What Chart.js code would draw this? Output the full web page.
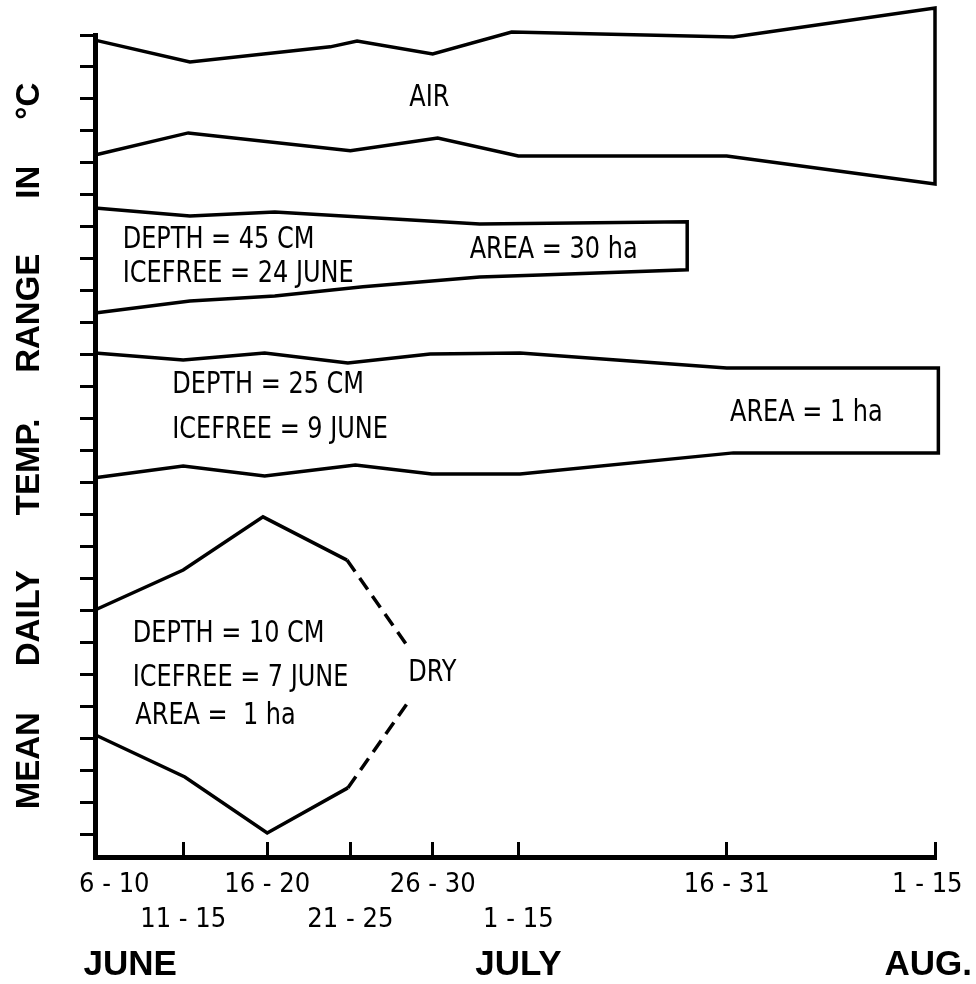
<!DOCTYPE html>
<html>
<head>
<meta charset="utf-8">
<title>Mean daily temperature range</title>
<script src="https://cdn.jsdelivr.net/npm/chart.js@4.4.1/dist/chart.umd.min.js"></script>
<style>
body { margin: 0; background: #fff; }
</style>
</head>
<body>
<canvas id="rangeChart" width="976" height="984"></canvas>
<script>
// periods along the x axis (0 = 6-10 June ... 10 = 1-15 Aug)
const periodPos = [0, 1.05, 2.05, 3.04, 4.02, 5.04, 7.52, 10]
const periodRow1 = ['6 - 10', '', '16 - 20', '', '26 - 30', '', '16 - 31', '1 - 15']
const periodRow2 = ['', '11 - 15', '', '21 - 25', '', '1 - 15', '', '']
const months = ['JUNE', 'JULY', 'AUG.']
const monthPos = [0.42, 5.04, 9.92]

// y tick marks, no numbers on the original
const yTicks = [0, 1, 2, 3, 4, 5, 6, 7, 8, 9, 10, 11, 12, 13, 14, 15, 16, 17, 18, 19, 20, 21, 22, 23, 24, 25]

// band outlines [x, y], upper and lower edge
const airUpper = [[0, 24.84], [1.13, 24.16], [2.80, 24.63], [3.12, 24.81], [4.02, 24.41], [4.96, 25.09], [7.60, 24.94], [10, 25.84]]
const airLower = [[0, 21.25], [1.11, 21.94], [3.04, 21.38], [4.08, 21.78], [5.04, 21.22], [7.52, 21.22], [10, 20.34]]

const pond45Upper = [[0, 19.59], [1.13, 19.34], [2.14, 19.47], [4.58, 19.09], [7.05, 19.16]]
const pond45Lower = [[0, 16.31], [1.13, 16.69], [2.14, 16.84], [3.19, 17.13], [4.58, 17.44], [5.30, 17.50], [7.05, 17.66]]

const pond25Upper = [[0, 15.06], [1.05, 14.84], [2.02, 15.06], [3.01, 14.75], [3.99, 15.03], [5.06, 15.06], [7.52, 14.59], [10.04, 14.59]]
const pond25Lower = [[0, 11.16], [1.05, 11.53], [2.02, 11.22], [3.10, 11.56], [4.01, 11.28], [5.06, 11.28], [7.60, 11.94], [10.04, 11.94]]

// 10 cm pond dried up, last segment dashed
const pond10Upper = [[0, 7.03], [1.05, 8.28], [2.0, 9.94], [3.0, 8.59], [3.71, 5.94]]
const pond10Lower = [[0, 3.13], [1.07, 1.81], [2.05, 0.06], [3.01, 1.47], [3.73, 4.16]]

// text written inside the bands
const notes = [
    {text: 'AIR', x: 3.98, y: 23.03, align: 'center'},
    {text: 'DEPTH = 45 CM', x: 0.33, y: 18.59, align: 'left'},
    {text: 'ICEFREE = 24 JUNE', x: 0.33, y: 17.53, align: 'left'},
    {text: 'AREA = 30 ha', x: 4.46, y: 18.28, align: 'left'},
    {text: 'DEPTH = 25 CM', x: 0.92, y: 14.06, align: 'left'},
    {text: 'ICEFREE = 9 JUNE', x: 0.92, y: 12.66, align: 'left'},
    {text: 'AREA = 1 ha', x: 7.56, y: 13.19, align: 'left'},
    {text: 'DEPTH = 10 CM', x: 0.45, y: 6.28, align: 'left'},
    {text: 'ICEFREE = 7 JUNE', x: 0.45, y: 4.91, align: 'left'},
    {text: 'AREA =  1 ha', x: 0.48, y: 3.72, align: 'left'},
    {text: 'DRY', x: 3.73, y: 5.06, align: 'left'}
]

const narrow = "'Liberation Sans Narrow', 'DejaVu Sans Condensed', sans-serif"
const bold = "'Liberation Sans', Arial, sans-serif"

// upper edge left to right, then back along the lower edge
function outline(upper, lower){
    return upper.concat(lower.slice().reverse())
}

function band(points, dashFrom){
    return {
        data: points.map(p => ({x: p[0], y: p[1]})),
        showLine: true,
        borderColor: '#000',
        borderWidth: 3.5,
        pointRadius: 0,
        fill: false,
        tension: 0,
        clip: false,
        segment: {
            borderDash: ctx => (dashFrom !== undefined && ctx.p0DataIndex >= dashFrom) ? [14, 8] : undefined
        }
    }
}

// notes are squeezed a bit sideways to look like the narrow typewriter face
const notesPlugin = {
    id: 'notes',
    afterDatasetsDraw(chart){
        const {ctx, scales: {x, y}} = chart
        ctx.save()
        ctx.fillStyle = '#000'
        ctx.font = '31px ' + narrow
        ctx.textBaseline = 'middle'
        notes.forEach(n => {
            ctx.save()
            ctx.translate(x.getPixelForValue(n.x), y.getPixelForValue(n.y))
            ctx.scale(0.86, 1)
            ctx.textAlign = n.align
            ctx.fillText(n.text, 0, 0)
            ctx.restore()
        })
        ctx.restore()
    }
}

// setup
const data = {
    datasets: [
        band(outline(airUpper, airLower)),
        band(outline(pond45Upper, pond45Lower)),
        band(outline(pond25Upper, pond25Lower)),
        band(pond10Upper, 3),
        band(pond10Lower, 3)
    ]
}

//config
const config = {
    type: 'scatter',
    data,
    options: {
        responsive: false,
        animation: false,
        devicePixelRatio: 1,
        layout: {padding: {top: 35, right: 41, left: 0, bottom: 0}},
        plugins: {legend: {display: false}, tooltip: {enabled: false}},
        scales: {
            x: {
                type: 'linear', position: 'bottom', weight: 0, min: 0, max: 10,
                border: {display: true, color: '#000', width: 5},
                grid: {drawOnChartArea: false, color: '#000', lineWidth: 3, tickLength: -15},
                ticks: {
                    autoSkip: false, maxRotation: 0, minRotation: 0, padding: 25, color: '#000',
                    font: {family: narrow, size: 27, lineHeight: 1.3},
                    callback: (v, i) => {
                        let top = periodRow1[i]
                        if (i === 0) top = '     ' + top
                        if (i === periodPos.length - 1) top = top + '  '
                        return [top, periodRow2[i]]
                    }
                },
                afterBuildTicks: s => { s.ticks = periodPos.map(v => ({value: v})) },
                afterFit: s => { s.height = 90; s.paddingLeft = 0; s.paddingRight = 0 }
            },
            xm: {
                type: 'linear', position: 'bottom', weight: 1, min: 0, max: 10,
                border: {display: false},
                grid: {display: false, drawTicks: false},
                ticks: {
                    autoSkip: false, maxRotation: 0, minRotation: 0, padding: 0.5, color: '#000',
                    font: {family: bold, weight: 'bold', size: 35, lineHeight: 1},
                    callback: (v, i) => months[i]
                },
                afterBuildTicks: s => { s.ticks = monthPos.map(v => ({value: v})) },
                afterFit: s => { s.height = 37; s.paddingLeft = 0; s.paddingRight = 0 }
            },
            y: {
                type: 'linear', position: 'left', min: -0.69, max: 25,
                border: {display: true, color: '#000', width: 5},
                grid: {drawOnChartArea: false, color: '#000', lineWidth: 3, tickLength: 15},
                ticks: {display: false},
                title: {
                    display: true,
                    text: 'MEAN     DAILY      TEMP.     RANGE      IN     \u00b0C',
                    color: '#000',
                    font: {family: bold, weight: 'bold', size: 33},
                    padding: {top: 10, bottom: 0}
                },
                afterBuildTicks: s => { s.ticks = yTicks.map(v => ({value: v})) },
                afterFit: s => { s.width = 95; s.paddingTop = 0; s.paddingBottom = 0 }
            }
        }
    },
    plugins: [notesPlugin]
}

let myChart = new Chart(document.getElementById('rangeChart'), config)
</script>
</body>
</html>
